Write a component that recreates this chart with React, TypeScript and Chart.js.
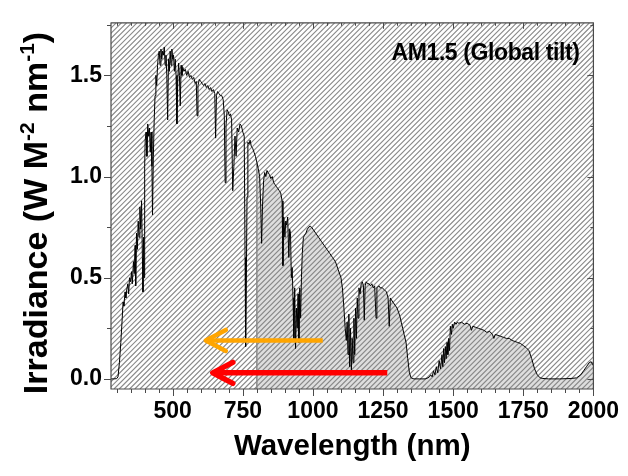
import { useEffect, useRef } from 'react';
import { Chart, registerables } from 'chart.js';

Chart.register(...registerables);

// ---- data ----
const wavelengthNm = [
  280, 290, 300, 305, 310, 315, 320, 323, 326, 330, 333, 336, 340, 343, 346, 350, 353, 356, 360, 363,
  366, 368, 371, 374, 377, 380, 383, 386, 389, 392, 394, 396, 398, 400, 402, 405, 408, 411, 414, 417,
  420, 423, 426, 428, 431, 434, 437, 440, 443, 446, 449, 452, 455, 458, 461, 464, 467, 470, 473, 476,
  479, 482, 485, 488, 491, 494, 497, 500, 503, 506, 509, 512, 515, 518, 521, 524, 527, 530, 533, 536,
  540, 545, 550, 555, 560, 565, 570, 575, 580, 584, 587, 590, 595, 600, 605, 610, 615, 620, 625, 630,
  635, 640, 645, 650, 653, 656, 660, 665, 670, 675, 680, 684, 687, 690, 694, 698, 702, 706, 710, 714,
  718, 722, 726, 730, 735, 740, 745, 750, 755, 758, 760, 762, 765, 768, 772, 776, 780, 785, 790, 795,
  800, 805, 810, 814, 817, 820, 824, 828, 832, 836, 840, 845, 850, 855, 860, 865, 870, 875, 880, 885,
  890, 893, 896, 900, 903, 906, 910, 914, 917, 920, 923, 926, 929, 932, 935, 938, 941, 944, 947, 950,
  953, 956, 959, 962, 966, 970, 975, 980, 985, 990, 995, 1000, 1010, 1020, 1030, 1040, 1050, 1060, 1070, 1080,
  1090, 1100, 1105, 1110, 1115, 1119, 1122, 1125, 1128, 1131, 1134, 1137, 1140, 1143, 1146, 1149, 1152, 1155, 1158, 1161,
  1164, 1168, 1172, 1176, 1180, 1183, 1186, 1190, 1195, 1200, 1205, 1210, 1215, 1220, 1225, 1228, 1235, 1240, 1247, 1255,
  1262, 1268, 1272, 1276, 1280, 1285, 1290, 1295, 1300, 1305, 1310, 1315, 1320, 1325, 1332, 1338, 1344, 1350, 1360, 1380,
  1400, 1410, 1415, 1420, 1425, 1430, 1435, 1440, 1445, 1450, 1455, 1460, 1463, 1466, 1469, 1472, 1475, 1478, 1481, 1484,
  1487, 1490, 1494, 1497, 1500, 1505, 1510, 1515, 1520, 1530, 1540, 1550, 1560, 1565, 1570, 1580, 1590, 1600, 1610, 1620,
  1630, 1640, 1645, 1650, 1660, 1670, 1680, 1690, 1700, 1710, 1720, 1730, 1740, 1750, 1760, 1770, 1780, 1790, 1800, 1810,
  1820, 1840, 1880, 1920, 1940, 1955, 1965, 1975, 1985, 1992, 2000,
];

const irradiance = [
  0, 0, 0.001, 0.01, 0.08, 0.18, 0.3, 0.38, 0.36, 0.43, 0.4, 0.44, 0.47, 0.42, 0.5, 0.48, 0.53, 0.47, 0.58, 0.52,
  0.66, 0.46, 0.72, 0.64, 0.78, 0.7, 0.85, 0.74, 0.88, 0.6, 0.43, 0.7, 0.5, 1.05, 1.18, 1.22, 1.1, 1.26, 1.2, 1.24,
  1.12, 1.22, 1.05, 0.81, 1.1, 1.28, 1.4, 1.5, 1.45, 1.55, 1.6, 1.62, 1.55, 1.63, 1.58, 1.62, 1.6, 1.64, 1.55, 1.6,
  1.5, 1.28, 1.58, 1.52, 1.62, 1.55, 1.63, 1.58, 1.6, 1.52, 1.58, 1.5, 1.26, 1.48, 1.56, 1.5, 1.35, 1.55, 1.5, 1.54,
  1.52, 1.53, 1.5, 1.52, 1.49, 1.5, 1.48, 1.49, 1.46, 1.47, 1.3, 1.45, 1.48, 1.47, 1.46, 1.45, 1.46, 1.44, 1.45, 1.43,
  1.44, 1.42, 1.43, 1.41, 1.19, 1.4, 1.42, 1.41, 1.4, 1.4, 1.38, 1.3, 0.97, 1.25, 1.33, 1.32, 1.3, 1.31, 1.28, 0.93,
  1.05, 1.2, 1.1, 1.24, 1.22, 1.26, 1.25, 1.22, 1.2, 0.6, 0.16, 0.4, 0.9, 1.17, 1.16, 1.18, 1.15, 1.14, 1.12, 1.1,
  1.07, 1.04, 1.0, 0.85, 0.67, 0.85, 0.98, 1.02, 1.0, 1.03, 1.02, 1.01, 0.99, 1.0, 0.97, 0.96, 0.95, 0.94, 0.93, 0.92,
  0.88, 0.56, 0.8, 0.7, 0.78, 0.76, 0.8, 0.6, 0.74, 0.72, 0.5, 0.55, 0.4, 0.2, 0.45, 0.15, 0.35, 0.25, 0.42, 0.18,
  0.45, 0.3, 0.5, 0.62, 0.7, 0.71, 0.72, 0.74, 0.75, 0.755, 0.75, 0.74, 0.72, 0.7, 0.68, 0.66, 0.64, 0.62, 0.6, 0.58,
  0.54, 0.5, 0.45, 0.36, 0.25, 0.19, 0.28, 0.12, 0.32, 0.06, 0.25, 0.04, 0.2, 0.08, 0.3, 0.12, 0.35, 0.2, 0.4, 0.3,
  0.45, 0.42, 0.47, 0.48, 0.46, 0.29, 0.46, 0.48, 0.47, 0.47, 0.46, 0.47, 0.45, 0.46, 0.3, 0.45, 0.46, 0.45, 0.45, 0.44,
  0.43, 0.4, 0.26, 0.4, 0.39, 0.38, 0.37, 0.36, 0.35, 0.33, 0.31, 0.28, 0.25, 0.22, 0.18, 0.1, 0.03, 0.005, 0, 0,
  0, 0.005, 0.01, 0.02, 0.01, 0.04, 0.02, 0.06, 0.03, 0.09, 0.05, 0.12, 0.06, 0.15, 0.08, 0.16, 0.1, 0.18, 0.12, 0.2,
  0.14, 0.26, 0.22, 0.27, 0.25, 0.28, 0.27, 0.28, 0.275, 0.28, 0.27, 0.275, 0.265, 0.24, 0.26, 0.255, 0.25, 0.245, 0.24, 0.23,
  0.235, 0.22, 0.2, 0.22, 0.215, 0.21, 0.205, 0.2, 0.2, 0.19, 0.185, 0.18, 0.175, 0.165, 0.155, 0.14, 0.1, 0.05, 0.02, 0.005,
  0.002, 0, 0, 0.002, 0.005, 0.02, 0.04, 0.06, 0.08, 0.085, 0.065,
];

const xTickValues = [500, 750, 1000, 1250, 1500, 1750, 2000];
const xMinorTickValues = [
  300, 350, 400, 450, 550, 600, 650, 700, 800, 850, 900, 950, 1050, 1100, 1150, 1200,
  1300, 1350, 1400, 1450, 1550, 1600, 1650, 1700, 1800, 1850, 1900, 1950,
];
const yTickValues = [0, 0.5, 1.0, 1.5];
const yMinorTickValues = [0.25, 0.75, 1.25, 1.75];

const xRange = [280, 2000];
const yRange = [-0.05, 1.76];

const shadeFromNm = 800;

const arrowFromNm = [1035, 1265];
const arrowToNm = [618, 643];
const arrowLevel = [0.19, 0.03];
const arrowColors = ['#FFA500', '#FF0000'];

const spectrumLabel = 'AM1.5 (Global tilt)';
const xTitle = 'Wavelength (nm)';
const yTitleParts = [
  { text: 'Irradiance (W M', sup: false },
  { text: '-2', sup: true },
  { text: ' nm', sup: false },
  { text: '-1', sup: true },
  { text: ')', sup: false },
];

const FONT = "'Liberation Sans', Arial, Helvetica, sans-serif";

export default function App() {
  const canvasRef = useRef<HTMLCanvasElement | null>(null);

  useEffect(() => {
    document.body.style.margin = '0';
    const canvas = canvasRef.current;
    if (!canvas) return;

    const spectrum = wavelengthNm.map((x, i) => ({ x, y: irradiance[i] }));
    const shade = spectrum.filter((p) => p.x >= shadeFromNm);
    const boundaryTop = irradiance[wavelengthNm.indexOf(shadeFromNm)];
    const boundary = [
      { x: shadeFromNm, y: yRange[0] },
      { x: shadeFromNm, y: boundaryTop },
    ];

    const hatchPlugin = {
      id: 'hatch',
      afterDatasetDraw(chart: any, args: any) {
        if (args.index !== 0) return;
        const { ctx, chartArea } = chart;
        const { left, right, top, bottom } = chartArea;
        ctx.save();
        ctx.beginPath();
        ctx.rect(left, top, right - left, bottom - top);
        ctx.clip();
        ctx.strokeStyle = '#8a8a8a';
        ctx.lineWidth = 1.15;
        const h = bottom - top;
        const step = 5.2;
        ctx.beginPath();
        for (let x0 = left - h; x0 < right + step; x0 += step) {
          ctx.moveTo(x0, bottom);
          ctx.lineTo(x0 + h, top);
        }
        ctx.stroke();
        ctx.restore();
      },
    };

    const decorPlugin = {
      id: 'decor',
      afterDraw(chart: any) {
        const { ctx, chartArea } = chart;
        const { left, right, top, bottom } = chartArea;
        const xs = chart.scales.x;
        const ys = chart.scales.y;
        ctx.save();

        // arrows
        arrowFromNm.forEach((from, i) => {
          const x1 = xs.getPixelForValue(from);
          const x2 = xs.getPixelForValue(arrowToNm[i]);
          const y = ys.getPixelForValue(arrowLevel[i]);
          ctx.strokeStyle = arrowColors[i];
          ctx.lineWidth = i === 0 ? 4.5 : 5.5;
          ctx.lineCap = 'butt';
          ctx.beginPath();
          ctx.moveTo(x1, y);
          ctx.lineTo(x2 + 2, y);
          ctx.stroke();
          ctx.lineCap = 'round';
          ctx.lineJoin = 'round';
          ctx.beginPath();
          ctx.moveTo(x2 + 20, y - 10.5);
          ctx.lineTo(x2, y);
          ctx.lineTo(x2 + 20, y + 10.5);
          ctx.stroke();
        });

        // frame
        ctx.strokeStyle = '#4a4a4a';
        ctx.lineWidth = 1.2;
        ctx.lineCap = 'butt';
        ctx.strokeRect(left, top, right - left, bottom - top);

        // ticks
        ctx.lineWidth = 1;
        ctx.beginPath();
        const xt = (v: number, len: number, topLen: number) => {
          const px = Math.round(xs.getPixelForValue(v)) + 0.5;
          ctx.moveTo(px, bottom);
          ctx.lineTo(px, bottom + len);
          ctx.moveTo(px, top);
          ctx.lineTo(px, top + topLen);
        };
        xTickValues.forEach((v) => xt(v, 7, 6));
        xMinorTickValues.forEach((v) => xt(v, 4, 3));
        const yt = (v: number, len: number, rLen: number) => {
          const py = Math.round(ys.getPixelForValue(v)) + 0.5;
          ctx.moveTo(left - len, py);
          ctx.lineTo(left, py);
          ctx.moveTo(right, py);
          ctx.lineTo(right - rLen, py);
        };
        yTickValues.forEach((v) => yt(v, 7, 6));
        yMinorTickValues.forEach((v) => yt(v, 4, 3));
        ctx.stroke();

        // label in the corner
        ctx.fillStyle = '#000';
        ctx.font = `bold 23px ${FONT}`;
        try {
          (ctx as any).letterSpacing = '-0.4px';
        } catch (e) {
          /* ignore */
        }
        ctx.textAlign = 'right';
        ctx.textBaseline = 'alphabetic';
        ctx.fillText(spectrumLabel, right - 14, top + 37);
        try {
          (ctx as any).letterSpacing = '0px';
        } catch (e) {
          /* ignore */
        }

        // y title with superscripts
        const mainFont = `bold 34px ${FONT}`;
        const supFont = `bold 21px ${FONT}`;
        let total = 0;
        const widths = yTitleParts.map((p) => {
          ctx.font = p.sup ? supFont : mainFont;
          const w = ctx.measureText(p.text).width;
          total += w;
          return w;
        });
        ctx.translate(35, 213);
        ctx.rotate(-Math.PI / 2);
        ctx.textAlign = 'left';
        ctx.textBaseline = 'alphabetic';
        let cx = -total / 2;
        yTitleParts.forEach((p, i) => {
          ctx.font = p.sup ? supFont : mainFont;
          ctx.fillText(p.text, cx, p.sup ? -1 : 12);
          cx += widths[i];
        });
        ctx.restore();
      },
    };

    const chart = new Chart(canvas, {
      type: 'line',
      data: {
        datasets: [
          {
            label: 'shade',
            data: shade,
            borderColor: 'rgba(0,0,0,0)',
            borderWidth: 0,
            backgroundColor: '#dedede',
            fill: 'start',
            pointRadius: 0,
            order: 3,
          },
          {
            label: 'boundary',
            data: boundary,
            borderColor: '#8a8a8a',
            borderWidth: 1.5,
            fill: false,
            pointRadius: 0,
            order: 2,
          },
          {
            label: 'spectrum',
            data: spectrum,
            borderColor: '#000',
            borderWidth: 1,
            fill: false,
            pointRadius: 0,
            tension: 0,
            order: 1,
          },
        ],
      },
      options: {
        animation: false,
        responsive: false,
        maintainAspectRatio: false,
        layout: { padding: { left: 0, top: 5, right: 33, bottom: 0 } },
        plugins: { legend: { display: false }, tooltip: { enabled: false } },
        scales: {
          x: {
            type: 'linear',
            min: xRange[0],
            max: xRange[1],
            afterBuildTicks: (s: any) => {
              s.ticks = xTickValues.map((value) => ({ value }));
            },
            afterFit: (s: any) => {
              s.height = 87;
            },
            grid: { display: false, drawTicks: false },
            border: { display: false },
            ticks: {
              color: '#000',
              padding: 9,
              maxRotation: 0,
              autoSkip: false,
              font: { family: FONT, size: 23, weight: 'bold' },
              callback: (v: any) => String(v),
            },
            title: {
              display: true,
              text: xTitle,
              color: '#000',
              font: { family: FONT, size: 29.5, weight: 'bold' },
              padding: { top: 0, bottom: 11 },
            },
          },
          y: {
            type: 'linear',
            min: yRange[0],
            max: yRange[1],
            afterBuildTicks: (s: any) => {
              s.ticks = yTickValues.map((value) => ({ value }));
            },
            afterFit: (s: any) => {
              s.width = 111;
            },
            grid: { display: false, drawTicks: false },
            border: { display: false },
            ticks: {
              color: '#000',
              padding: 9,
              font: { family: FONT, size: 23, weight: 'bold' },
              callback: (v: any) => Number(v).toFixed(1),
            },
          },
        },
      },
      plugins: [hatchPlugin, decorPlugin],
    } as any);

    return () => chart.destroy();
  }, []);

  return (
    <div style={{ position: 'fixed', left: 0, top: 0, width: 628, height: 476, background: '#fff' }}>
      <canvas ref={canvasRef} width={628} height={476} style={{ display: 'block' }} />
    </div>
  );
}
